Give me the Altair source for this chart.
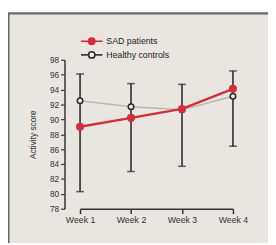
import altair as alt
import pandas as pd

# ---- data ----
weeks = ["Week 1", "Week 2", "Week 3", "Week 4"]
sad_patients = [89.0, 90.2, 91.4, 94.1]
healthy_controls = [92.5, 91.7, 91.3, 93.1]
err_low = [80.3, 83.0, 83.7, 86.4]
err_high = [96.1, 94.8, 94.7, 96.5]
series = ["SAD patients", "Healthy controls"]
y_ticks = [78, 80, 82, 84, 86, 88, 90, 92, 94, 96, 98]

RED = "#d22f3c"
DARK = "#2a2a2a"
GRAY_LINE = "#bdb5b0"
BG = "#e9e6e1"
FONT = "Liberation Sans, Arial, sans-serif"

df = pd.DataFrame({
    "week": weeks,
    "sad": sad_patients,
    "healthy": healthy_controls,
    "low": err_low,
    "high": err_high,
})
legend_df = pd.DataFrame({"series": series})
frame_df = pd.DataFrame({"a": [0]})

W, H = 180, 153

x_enc = alt.X(
    "week:N",
    sort=weeks,
    scale=alt.Scale(type="point", domain=weeks, range=[16, 173], padding=0),
    axis=alt.Axis(
        title=None, labelAngle=0, labelFontSize=9, labelFont=FONT, labelColor="#333",
        domainColor="#333", domainWidth=1.5, tickColor="#333", tickWidth=1.5,
        tickSize=5, labelPadding=2, grid=False, zindex=1,
    ),
)
y_scale = alt.Scale(domain=[78, 98], nice=False, zero=False)
y_axis = alt.Axis(
    values=y_ticks, format="d", grid=False, labelFontSize=8.5, labelFont=FONT,
    labelColor="#333", domainColor="#333", domainWidth=1.5, tickColor="#333",
    tickWidth=1.2, tickSize=4, labelPadding=2, title="Activity score",
    titleFontSize=8.5, titleFont=FONT, titleFontWeight="normal", titleColor="#333",
    titleX=-33, titleY=H / 2, titleAngle=270, titleAlign="center", titleBaseline="middle",
    zindex=1,
)


def Y(field):
    return alt.Y(field, scale=y_scale, axis=y_axis, title="Activity score")


base = alt.Chart(df)

healthy_line = base.mark_line(color=GRAY_LINE, strokeWidth=1.6).encode(x=x_enc, y=Y("healthy:Q"))
bars = base.mark_rule(color=DARK, strokeWidth=1.6).encode(x=x_enc, y=Y("low:Q"), y2="high:Q")
cap_lo = base.mark_tick(color=DARK, thickness=1.6, size=8).encode(x=x_enc, y=Y("low:Q"))
cap_hi = base.mark_tick(color=DARK, thickness=1.6, size=8).encode(x=x_enc, y=Y("high:Q"))
healthy_pts = base.mark_point(
    shape="circle", filled=True, fill="#f4f2ee", stroke=DARK, strokeWidth=1.6, size=32, opacity=1
).encode(x=x_enc, y=Y("healthy:Q"))
sad_line = base.mark_line(color=RED, strokeWidth=2.5).encode(x=x_enc, y=Y("sad:Q"))
sad_pts = base.mark_point(shape="circle", filled=True, color=RED, size=68, opacity=1).encode(
    x=x_enc, y=Y("sad:Q")
)

main = alt.layer(healthy_line, bars, cap_lo, cap_hi, healthy_pts, sad_line, sad_pts)

# ---- manual legend ----
leg_y = alt.Y("series:N", scale=alt.Scale(type="point", domain=series, range=[-19, -5], padding=0), axis=None)
leg = alt.Chart(legend_df)
leg_rule = leg.mark_rule(strokeWidth=1.6).encode(
    x=alt.value(17), x2=alt.value(39), y=leg_y,
    color=alt.Color("series:N", scale=alt.Scale(domain=series, range=[RED, DARK]), legend=None),
)
leg_pts = leg.mark_point(shape="circle", filled=True, size=42, strokeWidth=1.6, opacity=1).encode(
    x=alt.value(28), y=leg_y,
    fill=alt.Fill("series:N", scale=alt.Scale(domain=series, range=[RED, "#f4f2ee"]), legend=None),
    stroke=alt.Stroke("series:N", scale=alt.Scale(domain=series, range=[RED, DARK]), legend=None),
)
leg_text = leg.mark_text(align="left", baseline="middle", fontSize=9, font=FONT, color="#222").encode(
    x=alt.value(43), y=leg_y, text="series:N"
)
legend = alt.layer(leg_rule, leg_pts, leg_text)

# ---- decorative frame ----
frame = alt.Chart(frame_df).mark_rect(fill=BG, stroke="#6a6a6a", strokeWidth=2.2).encode(
    x=alt.value(-57.5), x2=alt.value(W + 60), y=alt.value(-47.7), y2=alt.value(H + 60)
)

chart = alt.layer(frame, main, legend).resolve_scale(
    y="independent", color="independent", fill="independent", stroke="independent"
).properties(
    width=W, height=H,
    autosize=alt.AutoSizeParams(type="none"),
    padding={"left": 58, "top": 50, "right": 29, "bottom": 32},
    background="white",
).configure_view(stroke=None)

chart.save("out.html", embed_options={"renderer": "svg", "actions": False})
